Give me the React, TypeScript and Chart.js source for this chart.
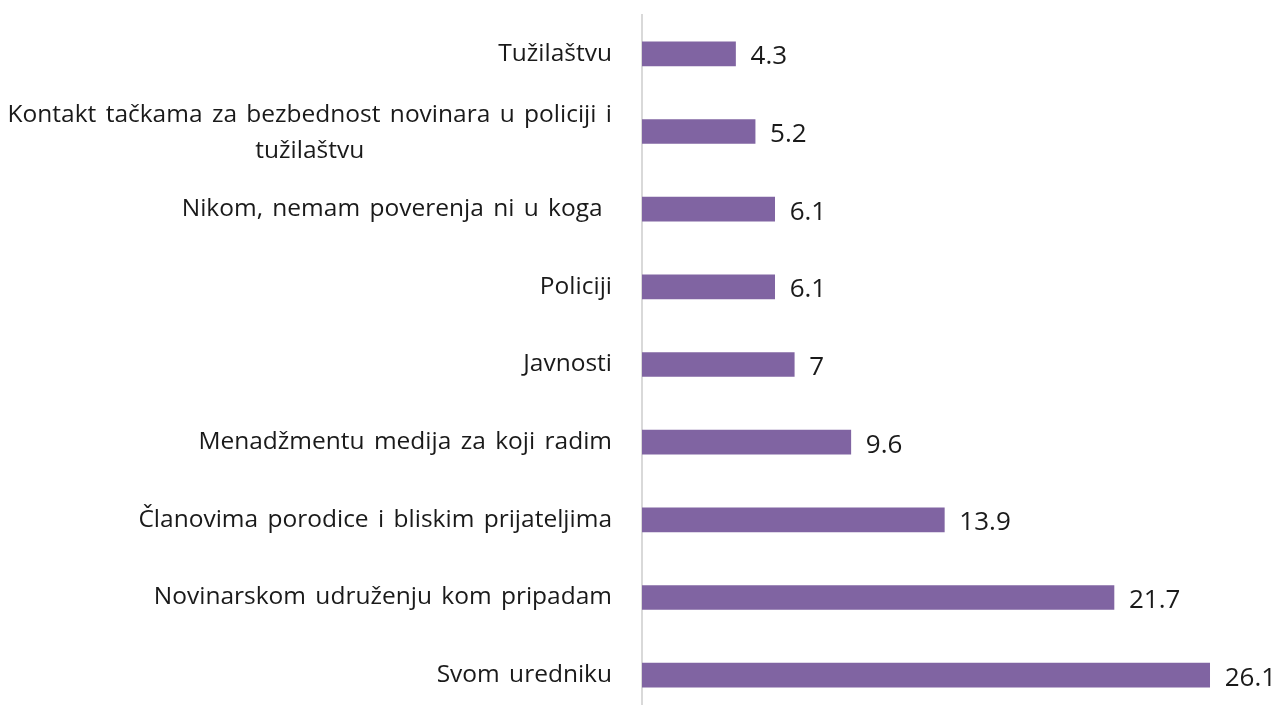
import React, { useEffect, useRef } from "react";
import { Chart, registerables } from "chart.js";

Chart.register(...registerables);

const categories: (string | string[])[] = [
  "Tužilaštvu",
  ["Kontakt tačkama za bezbednost novinara u policiji i", "tužilaštvu"],
  "Nikom, nemam poverenja ni u koga ",
  "Policiji",
  "Javnosti",
  "Menadžmentu medija za koji radim",
  "Članovima porodice i bliskim prijateljima",
  "Novinarskom udruženju kom pripadam",
  "Svom uredniku",
];
const values = [4.3, 5.2, 6.1, 6.1, 7, 9.6, 13.9, 21.7, 26.1];
const valueLabels = ["4.3", "5.2", "6.1", "6.1", "7", "9.6", "13.9", "21.7", "26.1"];

const FONT = "'Open Sans', 'Noto Sans', sans-serif";
const BAR_COLOR = "#8064A2";
const TEXT_COLOR = "#1a1a1a";

const labelPlugin = {
  id: "customLabels",
  afterDatasetsDraw(chart: any) {
    const ctx = chart.ctx as CanvasRenderingContext2D;
    const yScale = chart.scales.y;
    const meta = chart.getDatasetMeta(0);
    ctx.save();
    // category labels
    ctx.font = `24.5px ${FONT}`;
    (ctx as any).wordSpacing = "3px";
    ctx.fillStyle = TEXT_COLOR;
    ctx.textBaseline = "middle";
    const rightX = yScale.right - 30;
    categories.forEach((lab, i) => {
      const cy = yScale.getPixelForTick(i);
      if (Array.isArray(lab)) {
        const widths = lab.map((l) => ctx.measureText(l).width);
        const widest = Math.max(...widths);
        const centerX = rightX - widest / 2;
        const lh = 36;
        const startY = cy - ((lab.length - 1) * lh) / 2 + 2;
        ctx.textAlign = "center";
        lab.forEach((l, j) => ctx.fillText(l, centerX, startY + j * lh));
      } else {
        ctx.textAlign = "right";
        ctx.fillText(lab, rightX, cy);
      }
    });
    // value labels
    (ctx as any).wordSpacing = "0px";
    ctx.font = `26px ${FONT}`;
    ctx.textAlign = "left";
    meta.data.forEach((bar: any, i: number) => {
      ctx.fillText(valueLabels[i], bar.x + 15, bar.y + 3);
    });
    ctx.restore();
  },
};

export default function App() {
  const canvasRef = useRef<HTMLCanvasElement | null>(null);

  useEffect(() => {
    if (!canvasRef.current) return;
    const chart = new Chart(canvasRef.current, {
      type: "bar",
      data: {
        labels: categories as any,
        datasets: [
          {
            data: values,
            backgroundColor: BAR_COLOR,
            borderWidth: 0,
            barThickness: 24,
          },
        ],
      },
      options: {
        indexAxis: "y",
        animation: false,
        responsive: true,
        maintainAspectRatio: false,
        layout: { padding: { top: 15, bottom: 2, left: 0, right: 29 } },
        plugins: {
          legend: { display: false },
          tooltip: { enabled: false },
        },
        scales: {
          x: {
            display: false,
            min: 0,
            max: 28,
          },
          y: {
            ticks: { display: false },
            grid: { display: false, drawTicks: false },
            border: { display: true, color: "#d9d9d9", width: 2 },
            afterFit(scale: any) {
              scale.width = 642;
            },
          },
        },
      },
      plugins: [labelPlugin],
    });
    return () => chart.destroy();
  }, []);

  return (
    <div
      style={{
        position: "fixed",
        left: 0,
        top: 0,
        width: 1280,
        height: 705,
        overflow: "hidden",
        background: "#fff",
      }}
    >
      <div style={{ position: "relative", width: 1280, height: 716 }}>
        <canvas ref={canvasRef} />
      </div>
    </div>
  );
}
